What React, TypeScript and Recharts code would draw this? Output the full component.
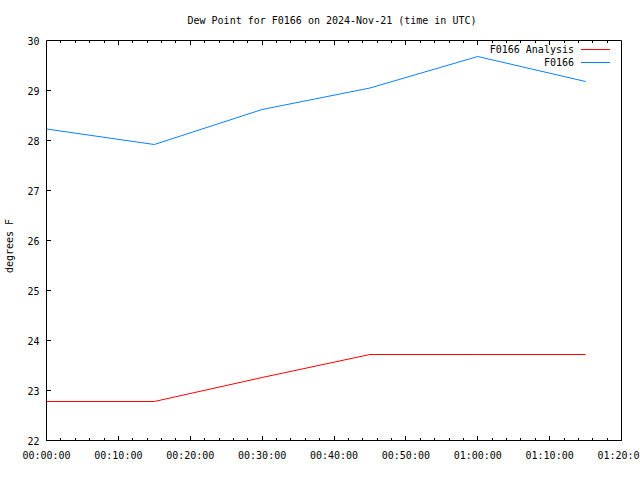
import React from "react";
import { LineChart, Line, XAxis, YAxis, Legend, Label } from "recharts";

// values (minutes after 00:00 UTC, degrees F)
const times = [0, 15, 30, 45, 60, 75];
const analysisValues = [22.78, 22.78, 23.26, 23.72, 23.72, 23.72];
const stationValues = [28.23, 27.92, 28.62, 29.05, 29.68, 29.18];

const majorTicks = [0, 10, 20, 30, 40, 50, 60, 70, 80];
const yTicks = [22, 23, 24, 25, 26, 27, 28, 29, 30];
const seriesNames = ["F0166 Analysis", "F0166"];
const title = "Dew Point for F0166 on 2024-Nov-21 (time in UTC)";
const yLabel = "degrees F";

const FONT = "'DejaVu Sans Mono', 'Liberation Mono', monospace";
const xTicks = Array.from({ length: 41 }, (_, i) => i * 2);

const data = times.map((t, i) => ({
  t,
  analysis: analysisValues[i],
  station: stationValues[i],
}));

const fmtTime = (m: number) => {
  const h = Math.floor(m / 60);
  const mm = m % 60;
  return `${String(h).padStart(2, "0")}:${String(mm).padStart(2, "0")}:00`;
};

const isMajor = (v: number) => majorTicks.includes(v);

const BottomTick = ({ x, y, payload }: any) => {
  const major = isMajor(payload.value);
  return (
    <g>
      <line x1={x} x2={x} y1={y} y2={y - (major ? 4.5 : 2.5)} stroke="#000" shapeRendering="crispEdges" />
      {major && (
        <text x={x} y={y + 18} textAnchor="middle" fontFamily={FONT} fontSize={10} fill="#000">
          {fmtTime(payload.value)}
        </text>
      )}
    </g>
  );
};

const TopTick = ({ x, y, payload }: any) => {
  const major = isMajor(payload.value);
  return <line x1={x} x2={x} y1={y} y2={y + (major ? 4.5 : 2.5)} stroke="#000" shapeRendering="crispEdges" />;
};

const LeftTick = ({ x, y, payload }: any) => (
  <g>
    <line x1={x} x2={x + 4.5} y1={y} y2={y} stroke="#000" shapeRendering="crispEdges" />
    <text x={x - 7} y={y + 4} textAnchor="end" fontFamily={FONT} fontSize={10} fill="#000">
      {payload.value}
    </text>
  </g>
);

const RightTick = ({ x, y }: any) => (
  <line x1={x} x2={x - 4.5} y1={y} y2={y} stroke="#000" shapeRendering="crispEdges" />
);

const renderLegend = (props: any) => {
  const items = props.payload || [];
  // keep the plotting order rather than the alphabetical one
  const ordered = seriesNames
    .map((n) => items.find((it: any) => it.value === n))
    .filter(Boolean);
  return (
    <div style={{ fontFamily: FONT, fontSize: 10, lineHeight: "13px", color: "#000" }}>
      {ordered.map((it: any) => (
        <div
          key={it.value}
          style={{ display: "flex", justifyContent: "flex-end", alignItems: "center", height: 13, paddingRight: 30 }}
        >
          <span>{it.value}</span>
          <span style={{ display: "inline-block", width: 29, height: 1, background: it.color, marginLeft: 7 }} />
        </div>
      ))}
    </div>
  );
};

export default function App() {
  return (
    <div style={{ position: "absolute", left: 0, top: 0, width: 640, height: 480, background: "#fff" }}>
      <LineChart
        width={640}
        height={480}
        data={data}
        margin={{ top: 0, right: 0, bottom: 0, left: 0 }}
      >
        <XAxis
          dataKey="t"
          type="number"
          domain={[0, 80]}
          ticks={xTicks}
          interval={0}
          height={39.5}
          tickSize={0}
          tickMargin={0}
          tick={<BottomTick />}
          axisLine={{ stroke: "#000" }}
          tickLine={false}
        />
        <XAxis
          xAxisId="top"
          orientation="top"
          dataKey="t"
          type="number"
          domain={[0, 80]}
          ticks={xTicks}
          interval={0}
          height={40.5}
          tickSize={0}
          tickMargin={0}
          tick={<TopTick />}
          axisLine={{ stroke: "#000" }}
          tickLine={false}
        >
          <Label
            content={() => (
              <text x={332} y={24} textAnchor="middle" fontFamily={FONT} fontSize={10} fill="#000">
                {title}
              </text>
            )}
          />
        </XAxis>
        <YAxis
          type="number"
          domain={[22, 30]}
          ticks={yTicks}
          interval={0}
          width={46.5}
          tickSize={0}
          tickMargin={0}
          tick={<LeftTick />}
          axisLine={{ stroke: "#000" }}
          tickLine={false}
          allowDataOverflow
        >
          <Label
            content={() => (
              <text
                x={13}
                y={246}
                transform="rotate(-90 13 246)"
                textAnchor="middle"
                fontFamily={FONT}
                fontSize={10}
                fill="#000"
              >
                {yLabel}
              </text>
            )}
          />
        </YAxis>
        <YAxis
          yAxisId="right"
          orientation="right"
          type="number"
          domain={[22, 30]}
          ticks={yTicks}
          interval={0}
          width={18.5}
          tickSize={0}
          tickMargin={0}
          tick={<RightTick />}
          axisLine={{ stroke: "#000" }}
          tickLine={false}
        />
        <Legend
          layout="horizontal"
          verticalAlign="middle"
          align="center"
          wrapperStyle={{ top: 43, left: 0, width: 640 }}
          content={renderLegend}
        />
        <Line
          type="linear"
          dataKey="analysis"
          name={seriesNames[0]}
          stroke="#ff0000"
          strokeWidth={1}
          dot={false}
          isAnimationActive={false}
        />
        <Line
          type="linear"
          dataKey="station"
          name={seriesNames[1]}
          stroke="#0a80ff"
          strokeWidth={1}
          dot={false}
          isAnimationActive={false}
        />
      </LineChart>
    </div>
  );
}
